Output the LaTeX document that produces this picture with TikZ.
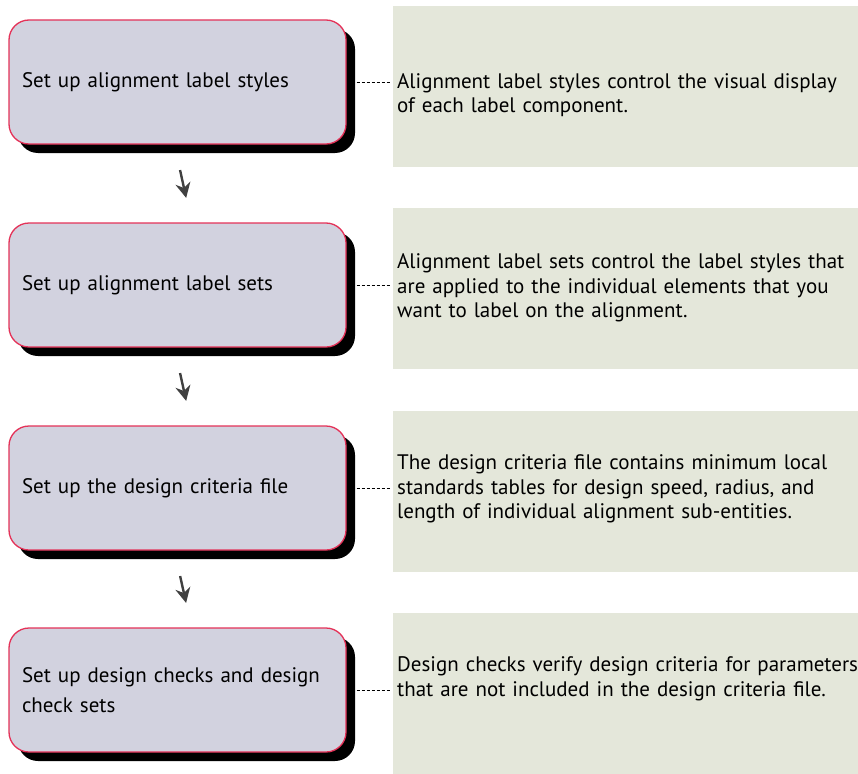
\documentclass[tikz,border=0pt]{standalone}
\usepackage{fontspec}
\setmainfont{PT Sans}
\definecolor{stepfill}{RGB}{210, 210, 223}
\definecolor{stepline}{RGB}{228, 50, 88}
\definecolor{notefill}{RGB}{228, 231, 218}
\definecolor{arrowgray}{RGB}{64, 64, 64}
\usetikzlibrary{shadows, arrows.meta}

\begin{document}
\begin{tikzpicture}[
  x=1pt, y=-1pt,
  stepbox/.style={draw=stepline, line width=1.3pt, fill=stepfill, rounded corners=20pt,
    minimum width=337pt, minimum height=124pt, text width=311pt, align=left, inner sep=0pt,
    font=\fontsize{21}{30}\selectfont,
    drop shadow={shadow xshift=9pt, shadow yshift=-9pt, fill=black, opacity=1}},
  notebox/.style={fill=notefill, minimum width=465pt, minimum height=161pt, inner sep=0pt},
  notetext/.style={text width=480pt, align=left, inner sep=0pt, font=\fontsize{21}{24.5}\selectfont},
  dashline/.style={draw=black, line width=0.7pt, dash pattern=on 3pt off 2pt, shorten <=10pt, shorten >=3pt},
  flowarrow/.style={draw=arrowgray, line width=2.4pt, -{Stealth[length=15pt, width=15pt]}, shorten <=26pt, shorten >=25pt}
]
  \useasboundingbox (0,0) rectangle (858,773);

  \node[notebox] (n1) at (625.5, 86.5) {};
  \node[notebox] (n2) at (625.5, 288) {};
  \node[notebox] (n3) at (625.5, 491.5) {};
  \node[notebox] (n4) at (625.5, 693) {};

  \node[notetext, anchor=west] (t1) at (397, 95) {Alignment label styles control the visual display\\of each label component.};
  \node[notetext, anchor=west] (t2) at (397, 288) {Alignment label sets control the label styles that\\are applied to the individual elements that you\\want to label on the alignment.};
  \node[notetext, anchor=west] (t3) at (397, 489) {The design criteria file contains minimum local\\standards tables for design speed, radius, and\\length of individual alignment sub-entities.};
  \node[notetext, anchor=west] (t4) at (397, 679) {Design checks verify design criteria for parameters\\that are not included in the design criteria file.};

  \node[stepbox] (s1) at (177.5, 82) {Set up alignment label styles};
  \node[stepbox] (s2) at (177.5, 285) {Set up alignment label sets};
  \node[stepbox] (s3) at (177.5, 488) {Set up the design criteria file};
  \node[stepbox] (s4) at (177.5, 690) {Set up design checks and design\\check sets};

  \draw[dashline] (s1.east) -- (s1.east -| n1.west);
  \draw[dashline] (s2.east) -- (s2.east -| n2.west);
  \draw[dashline] (s3.east) -- (s3.east -| n3.west);
  \draw[dashline] (s4.east) -- (s4.east -| n4.west);

  \draw[flowarrow] ([xshift=-3pt]s1.south) -- ([xshift=14pt]s2.north);
  \draw[flowarrow] ([xshift=-3pt]s2.south) -- ([xshift=14pt]s3.north);
  \draw[flowarrow] ([xshift=-3pt]s3.south) -- ([xshift=14pt]s4.north);
\end{tikzpicture}
\end{document}
